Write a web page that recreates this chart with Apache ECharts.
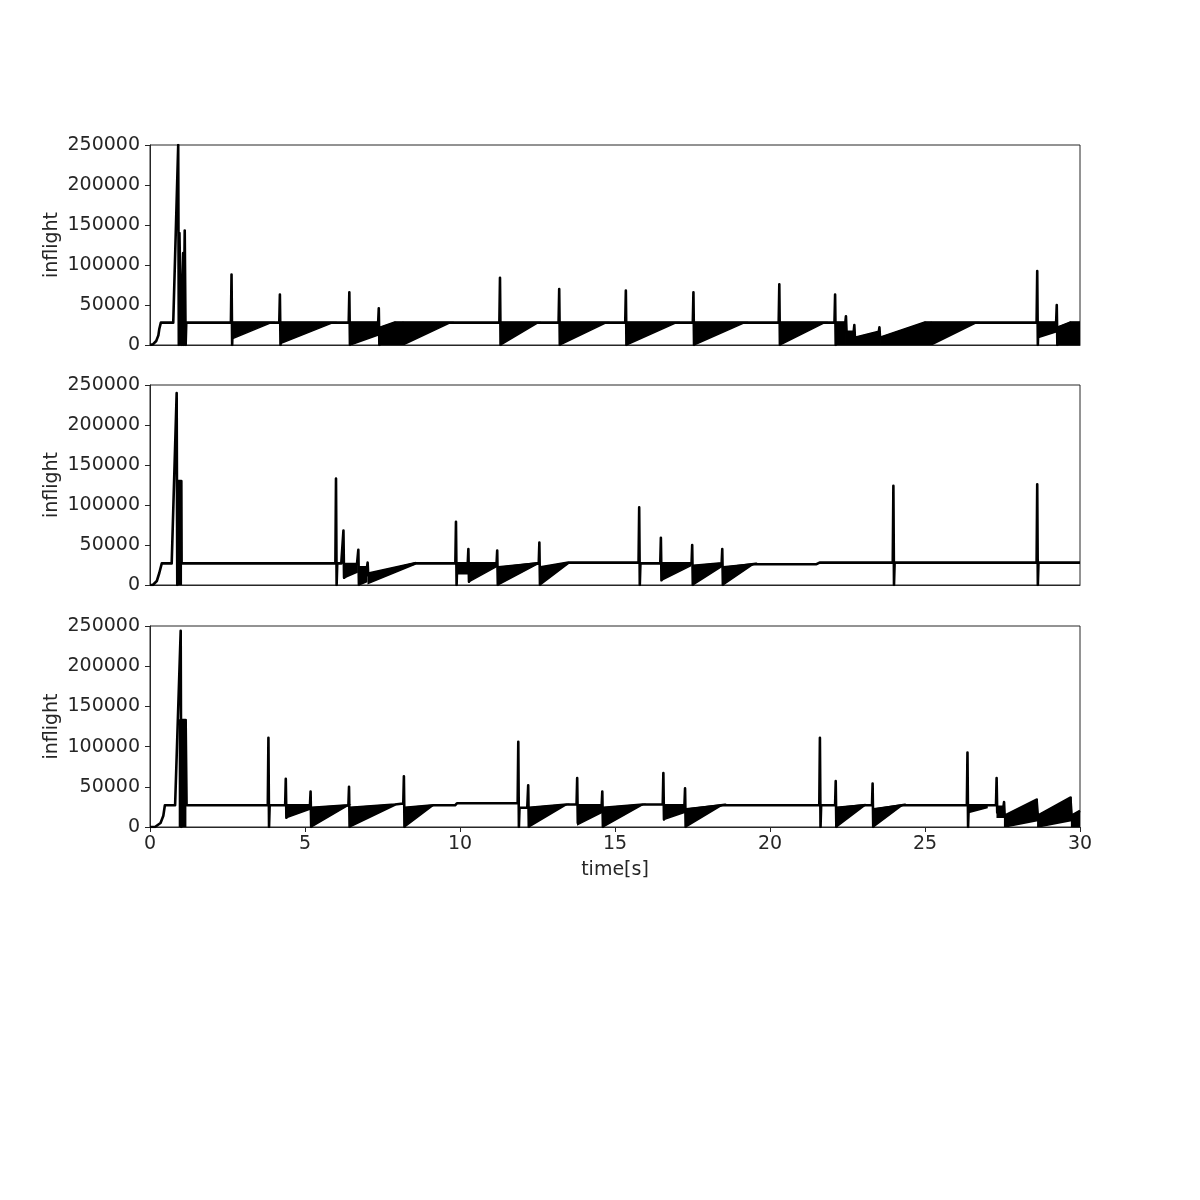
<!DOCTYPE html>
<html>
<head>
<meta charset="utf-8">
<script src="https://cdn.jsdelivr.net/npm/echarts@6/dist/echarts.min.js"></script>
<style>html,body{margin:0;padding:0;background:#fff}#c{width:1200px;height:1200px}</style>
</head>
<body>
<div id="c"></div>
<script>
// ---------- DATA ----------
const xTicks = [0, 5, 10, 15, 20, 25, 30];
const yTicks = [0, 50000, 100000, 150000, 200000, 250000];
const yLabel = "inflight";
const xLabel = "time[s]";

// upper trace of each panel: [time s, inflight]
const panel1Line = [
  [0,0],[0.1,1000],[0.2,5000],[0.27,12000],[0.3,20000],[0.35,28000],[0.75,28000],[0.91,250000],[0.93,0],
  [0.95,140000],[1.0,140000],[1.01,0],[1.07,115000],[1.08,0],[1.12,143000],[1.15,0],[1.17,28000],
  [2.61,28000],[2.63,88000],[2.65,0],[2.67,28000],
  [4.17,28000],[4.19,63000],[4.21,0],[4.23,28000],
  [6.41,28000],[6.43,66000],[6.45,0],[6.47,28000],
  [7.36,28000],[7.38,46000],[7.40,0],[7.42,21600],[7.9,28000],
  [11.27,28000],[11.29,84000],[11.31,0],[11.33,28000],
  [13.18,28000],[13.2,70000],[13.22,0],[13.24,28000],
  [15.33,28000],[15.35,68000],[15.37,0],[15.39,28000],
  [17.51,28000],[17.53,66000],[17.55,0],[17.57,28000],
  [20.28,28000],[20.3,76000],[20.32,0],[20.34,28000],
  [22.08,28000],[22.1,63000],[22.12,0],[22.14,28000],[22.43,28000],[22.45,36000],[22.47,16600],[22.70,16600],
  [22.72,25000],[22.74,9000],[23.51,16600],[23.53,22000],[23.55,9000],[25.0,28000],
  [28.6,28000],[28.62,92500],[28.64,0],[28.66,28000],[29.23,28000],[29.25,50000],[29.27,0],[29.29,22000],[29.68,28000],[30,28000]
];
// oscillating bands: [t0, t1, top0, top1, low0, low1]
const panel1Bands = [
  [2.66,3.92,28000,28000,8000,28000],
  [4.22,5.91,28000,28000,2000,28000],
  [6.46,7.37,28000,28000,0,12500],
  [7.40,7.9,21600,28000,0,0],
  [7.9,8.16,28000,28000,0,0],
  [8.16,9.7,28000,28000,0,28000],
  [11.31,12.53,28000,28000,0,28000],
  [13.22,14.73,28000,28000,0,28000],
  [15.37,16.99,28000,28000,0,28000],
  [17.55,19.19,28000,28000,0,28000],
  [20.32,21.77,28000,28000,0,28000],
  [22.12,22.45,28000,28000,0,0],
  [22.47,22.72,16600,16600,0,0],
  [22.74,23.53,9000,16600,0,0],
  [23.55,25.0,9000,28000,0,0],
  [25.0,25.2,28000,28000,0,0],
  [25.2,26.67,28000,28000,0,28000],
  [28.64,29.25,28000,28000,9000,16600],
  [29.27,29.68,22000,28000,0,0],
  [29.68,30,28000,28000,0,0]
];

const panel2Line = [
  [0,0],[0.09,0],[0.22,5000],[0.3,15000],[0.38,27000],[0.7,27000],[0.86,240000],[0.88,0],[0.9,130000],[1.01,130000],[1.02,27000],
  [5.98,27000],[6.0,133000],[6.02,0],[6.04,27000],[6.17,27000],[6.24,68000],[6.26,9000],[6.68,27000],
  [6.72,44000],[6.74,0],[6.76,22000],[7.0,22000],[7.02,28000],[7.04,12000],[8.55,27000],
  [9.85,27000],[9.87,79000],[9.89,0],[9.91,27000],[10.25,27000],[10.27,45000],[10.29,4000],[10.31,27000],
  [11.18,27000],[11.2,43000],[11.22,0],[11.24,22000],[12.54,27000],[12.56,53000],[12.58,0],[12.6,22000],[13.5,28000],
  [15.76,28000],[15.78,97000],[15.8,0],[15.82,27000],[16.46,27000],[16.48,59000],[16.5,6000],[16.52,27000],
  [17.47,27000],[17.49,50000],[17.51,0],[17.53,24000],[18.44,27000],[18.46,45000],[18.48,0],[18.5,22000],[19.5,26000],
  [21.5,26000],[21.6,28000],[23.96,28000],[23.98,124000],[24.0,0],[24.02,28000],
  [28.6,28000],[28.62,126000],[28.64,0],[28.66,28000],[30,28000]
];
const panel2Bands = [
  [0.9,1.01,130000,130000,0,0],
  [6.26,6.68,27000,27000,9000,16000],
  [6.74,6.99,22000,22000,0,4000],
  [7.04,8.55,15000,28000,2000,26000],
  [9.9,10.25,27000,27000,14000,14000],
  [10.29,11.18,25000,27000,4000,23000],
  [11.22,12.54,22000,28000,0,27000],
  [12.58,13.5,22000,28000,0,27000],
  [16.5,17.44,27000,27000,6000,24000],
  [17.51,18.44,24000,27000,0,23000],
  [18.48,19.5,22000,27000,0,27000]
];

const panel3Line = [
  [0,0],[0.16,0],[0.34,5000],[0.43,14000],[0.48,27000],[0.81,27000],[0.99,244000],[1.01,0],[1.03,133000],[1.15,133000],[1.18,27000],
  [3.8,27000],[3.82,111000],[3.84,0],[3.86,27000],[4.36,27000],[4.38,60000],[4.40,11500],[4.42,27000],
  [5.16,27000],[5.18,44000],[5.2,0],[5.22,24000],[6.4,27000],[6.42,50000],[6.44,0],[6.46,24000],[7.9,28000],[8.1,29000],
  [8.17,29000],[8.19,63000],[8.21,0],[8.23,24000],[9.14,27000],[9.84,27000],[9.9,29500],
  [11.86,29500],[11.88,106000],[11.9,0],[11.92,24000],[12.17,24000],[12.2,52000],[12.22,0],[12.24,24000],[13.44,28000],
  [13.76,28000],[13.78,61000],[13.8,5000],[13.82,27000],[14.57,27000],[14.59,44000],[14.61,0],[14.63,24000],[15.9,28000],
  [16.54,28000],[16.56,67000],[16.58,9500],[16.6,27000],[17.24,27000],[17.26,48000],[17.28,0],[17.3,22000],[18.49,27000],
  [21.59,27000],[21.61,111000],[21.63,0],[21.65,27000],[22.1,27000],[22.12,57000],[22.14,0],[22.16,24000],[23.06,27000],
  [23.29,27000],[23.31,54000],[23.33,0],[23.35,22000],[24.3,27000],
  [26.35,27000],[26.37,92500],[26.39,0],[26.41,27000],[27.29,27000],[27.31,61000],[27.33,18000],[27.35,25000],
  [27.53,25000],[27.55,31000],[27.57,14000],[28.6,34000],[28.62,36000],[28.64,14000],[29.69,36500],[29.71,36500],[29.73,14000],[30,20000]
];
const panel3Bands = [
  [0.95,1.15,133000,133000,0,0],
  [4.40,5.16,27000,27000,11500,22000],
  [5.2,6.4,24000,27000,0,27000],
  [6.44,7.9,24000,28000,0,27000],
  [8.21,9.14,24000,27000,0,27000],
  [12.22,13.44,24000,28000,0,28000],
  [13.8,14.57,27000,27000,3000,18000],
  [14.61,15.9,24000,28000,0,28000],
  [16.58,17.24,27000,27000,9500,18000],
  [17.28,18.49,22000,28000,0,28000],
  [22.14,23.06,24000,28000,0,27000],
  [23.33,24.3,22000,28000,0,28000],
  [26.41,27.0,27000,27000,18000,24000],
  [27.33,27.53,25000,25000,12000,12000],
  [27.57,28.62,14000,34000,0,8000],
  [28.64,29.71,14000,36500,0,8000],
  [29.73,30,14000,20000,0,0]
];

// ---------- CHART ----------
const INK = '#262626';
const chart = echarts.init(document.getElementById('c'), null, {renderer: 'canvas'});
const grids = [
  {left: 150, top: 145, width: 930, height: 200},
  {left: 150, top: 385, width: 930, height: 200},
  {left: 150, top: 626, width: 930, height: 201}
].map(g => Object.assign(g, {show: true, borderColor: INK, borderWidth: 1, backgroundColor: 'transparent', containLabel: false}));

function xAx(i, showLabels) {
  return {
    type: 'value', gridIndex: i, min: xTicks[0], max: xTicks[xTicks.length - 1], interval: xTicks[1] - xTicks[0],
    splitLine: {show: false},
    axisLine: {show: true, lineStyle: {color: INK, width: 1}},
    axisTick: {show: showLabels, length: 5, lineStyle: {color: INK}},
    axisLabel: {show: showLabels, fontSize: 19, color: INK, margin: 8, fontFamily: 'DejaVu Sans',
      formatter: v => String(v)},
    name: showLabels ? xLabel : '', nameLocation: 'middle', nameGap: 34, nameMoveOverlap: false,
    nameTextStyle: {fontSize: 19, color: INK, fontFamily: 'DejaVu Sans'}
  };
}
function yAx(i) {
  return {
    type: 'value', gridIndex: i, min: yTicks[0], max: yTicks[yTicks.length - 1], interval: yTicks[1] - yTicks[0],
    splitLine: {show: false},
    axisLine: {show: true, lineStyle: {color: INK, width: 1}},
    axisTick: {show: true, length: 5, lineStyle: {color: INK}},
    axisLabel: {fontSize: 19, color: INK, margin: 10, fontFamily: 'DejaVu Sans',
      formatter: v => String(v)},
    name: yLabel, nameLocation: 'middle', nameGap: 88, nameRotate: 90, nameMoveOverlap: false,
    nameTextStyle: {fontSize: 19, color: INK, fontFamily: 'DejaVu Sans'}
  };
}

function bandSeries(i, data) {
  return {
    type: 'custom', xAxisIndex: i, yAxisIndex: i, data: data, clip: true,
    encode: {x: [0, 1], y: [2, 3, 4, 5]},
    renderItem: function (params, api) {
      const pts = [
        api.coord([api.value(0), api.value(2)]),
        api.coord([api.value(1), api.value(3)]),
        api.coord([api.value(1), api.value(5)]),
        api.coord([api.value(0), api.value(4)])
      ];
      return {type: 'polygon', shape: {points: pts}, style: {fill: '#000', stroke: '#000', lineWidth: 1.5}};
    },
    silent: true, animation: false
  };
}
function lineSeries(i, data) {
  return {
    type: 'line', xAxisIndex: i, yAxisIndex: i, data: data, showSymbol: false, symbol: 'none',
    lineStyle: {color: '#000', width: 2.6, join: 'round'}, silent: true, animation: false, clip: true
  };
}

chart.setOption({
  backgroundColor: '#fff',
  animation: false,
  grid: grids,
  xAxis: [xAx(0, false), xAx(1, false), xAx(2, true)],
  yAxis: [yAx(0), yAx(1), yAx(2)],
  series: [
    bandSeries(0, panel1Bands), lineSeries(0, panel1Line),
    bandSeries(1, panel2Bands), lineSeries(1, panel2Line),
    bandSeries(2, panel3Bands), lineSeries(2, panel3Line)
  ]
});
</script>
</body>
</html>
